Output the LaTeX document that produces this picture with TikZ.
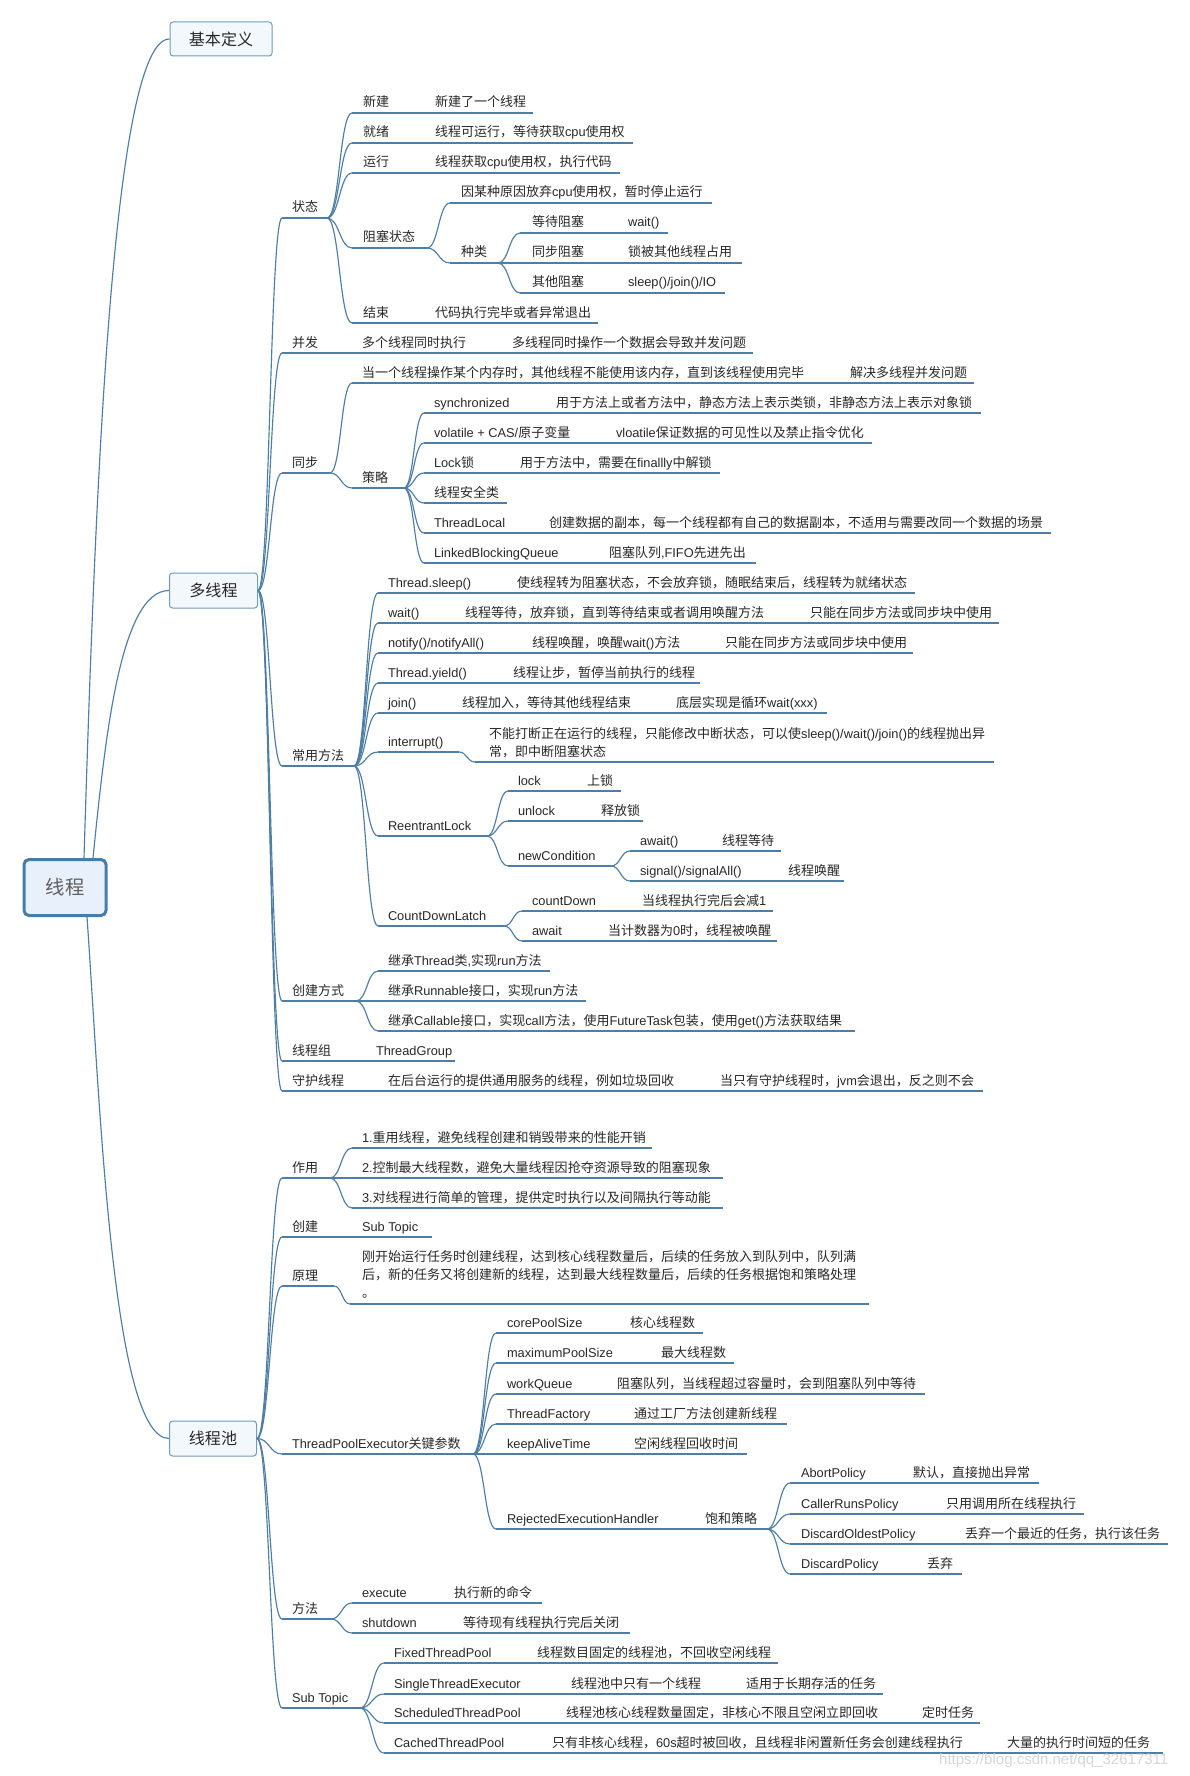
\documentclass[tikz,border=0pt]{standalone}
\usepackage{fontspec}
\setmainfont{Liberation Sans}
\newfontfamily\cjkfont[Scale=1.016]{Noto Sans CJK SC}
\usetikzlibrary{calc}
\XeTeXinterchartokenstate=1
\newXeTeXintercharclass\cjkcls
\newcount\cjkcnt
\newcommand\setcjkrange[2]{\cjkcnt=#1\relax
  \loop\XeTeXcharclass\cjkcnt=\cjkcls\relax
  \ifnum\cjkcnt<#2\relax\advance\cjkcnt by 1\relax\repeat}
\setcjkrange{"3000}{"303F}
\setcjkrange{"4E00}{"9FFF}
\setcjkrange{"FF00}{"FFEF}
\XeTeXinterchartoks 0 \cjkcls = {\begingroup\cjkfont}
\XeTeXinterchartoks 4095 \cjkcls = {\begingroup\cjkfont}
\XeTeXinterchartoks \cjkcls 0 = {\endgroup}
\XeTeXinterchartoks \cjkcls 4095 = {\endgroup}

\definecolor{lnc}{RGB}{78,125,165}
\definecolor{boxc}{RGB}{110,155,195}
\definecolor{boxf}{RGB}{243,248,252}
\definecolor{rootc}{RGB}{70,125,170}
\definecolor{rootf}{RGB}{232,241,251}
\definecolor{txtc}{RGB}{40,40,40}
\definecolor{roottxt}{RGB}{95,95,95}
\definecolor{wmc}{RGB}{214,214,214}

\newcommand\ulrow[4]{\coordinate (#1-l) at (#3,#2); \coordinate (#1-r) at (#4,#2); \draw[ul] (#1-l) -- (#1-r);}
\newcommand\tlab[4]{\node[tx] (#1) at (#2,#3-6) {#4};}
\newcommand\mmlink[2]{\draw[cn] let \p1=(#1), \p2=(#2) in (\p1) .. controls ({0.5*\x1+0.5*\x2},\y1) and ({0.5*\x1+0.5*\x2},\y2) .. (\p2);}
\newcommand\twolines[2]{\vtop{\baselineskip=18pt\hbox{#1}\hbox{#2}}}
\newcommand\threelines[3]{\vtop{\baselineskip=18pt\hbox{#1}\hbox{#2}\hbox{#3}}}

\begin{document}
\begin{tikzpicture}[x=1pt,y=-1pt,
  tx/.style={anchor=base west,inner sep=0pt,outer sep=0pt,text=txtc,font=\fontsize{12.8}{15}\selectfont},
  ul/.style={draw=lnc,line width=1.15pt},
  cn/.style={draw=lnc,line width=1.15pt},
  lvone/.style={draw=boxc,fill=boxf,rounded corners=3pt,line width=1pt,inner sep=0pt,text=txtc,font=\fontsize{15.8}{18}\selectfont},
  rootbox/.style={draw=rootc,fill=rootf,rounded corners=5pt,line width=3pt,inner sep=0pt,text=roottxt,font=\fontsize{19}{22}\selectfont,minimum width=82pt,minimum height=56pt}]
\fill[white] (0,0) rectangle (1189,1776);
\useasboundingbox (0,0) rectangle (1189,1776);

% ---------- root and main topics ----------
\node[rootbox] (root) at (65,887.5) {线程};
\node[lvone,minimum width=102pt,minimum height=34pt] (jb) at (221,39) {基本定义};
\node[lvone,minimum width=88pt,minimum height=35pt] (mt) at (213.5,590.5) {多线程};
\node[lvone,minimum width=87pt,minimum height=35pt] (tp) at (213,1438.5) {线程池};
\coordinate (rt1) at (84,858);
\coordinate (rt2) at (93,858);
\coordinate (rb) at (87,917);
\draw[cn] (rt1) .. controls (95,500) and (112,39) .. (jb.west);
\draw[cn] (rt2) .. controls (105,740) and (120,590.5) .. (mt.west);
\draw[cn] (rb) .. controls (100,1100) and (112,1438.5) .. (tp.west);

% ---------- 多线程 : 状态 ----------
\ulrow{zt}{218}{282}{327} \tlab{zt-a}{292}{218}{状态}
\mmlink{mt.east}{zt-l}
\ulrow{xj}{113}{352}{533} \tlab{xj-a}{363}{113}{新建} \tlab{xj-b}{435}{113}{新建了一个线程}
\ulrow{jx}{143}{352}{633} \tlab{jx-a}{363}{143}{就绪} \tlab{jx-b}{435}{143}{线程可运行，等待获取cpu使用权}
\ulrow{yx}{173}{352}{620} \tlab{yx-a}{363}{173}{运行} \tlab{yx-b}{435}{173}{线程获取cpu使用权，执行代码}
\ulrow{zs}{248}{352}{427} \tlab{zs-a}{363}{248}{阻塞状态}
\ulrow{yy}{203}{450}{712} \tlab{yy-a}{461}{203}{因某种原因放弃cpu使用权，暂时停止运行}
\ulrow{zl}{263}{450}{498} \tlab{zl-a}{461}{263}{种类}
\ulrow{dd}{233}{520}{668} \tlab{dd-a}{532}{233}{等待阻塞} \tlab{dd-b}{628}{233}{wait()}
\ulrow{tb}{263}{520}{742} \tlab{tb-a}{532}{263}{同步阻塞} \tlab{tb-b}{628}{263}{锁被其他线程占用}
\ulrow{qt}{293}{520}{725} \tlab{qt-a}{532}{293}{其他阻塞} \tlab{qt-b}{628}{293}{sleep()/join()/IO}
\ulrow{js}{323}{352}{598} \tlab{js-a}{363}{323}{结束} \tlab{js-b}{435}{323}{代码执行完毕或者异常退出}
\mmlink{zt-r}{xj-l} \mmlink{zt-r}{jx-l} \mmlink{zt-r}{yx-l} \mmlink{zt-r}{zs-l} \mmlink{zt-r}{js-l}
\mmlink{zs-r}{yy-l} \mmlink{zs-r}{zl-l}
\mmlink{zl-r}{dd-l} \mmlink{zl-r}{tb-l} \mmlink{zl-r}{qt-l}

% ---------- 并发 ----------
\ulrow{bf}{353}{282}{753} \tlab{bf-a}{292}{353}{并发} \tlab{bf-b}{362}{353}{多个线程同时执行} \tlab{bf-c}{512}{353}{多线程同时操作一个数据会导致并发问题}
\mmlink{mt.east}{bf-l}

% ---------- 同步 ----------
\ulrow{tbu}{473}{282}{330} \tlab{tbu-a}{292}{473}{同步}
\mmlink{mt.east}{tbu-l}
\ulrow{dy}{383}{352}{974} \tlab{dy-a}{362}{383}{当一个线程操作某个内存时，其他线程不能使用该内存，直到该线程使用完毕} \tlab{dy-b}{850}{383}{解决多线程并发问题}
\ulrow{cl}{488}{352}{404} \tlab{cl-a}{362}{488}{策略}
\mmlink{tbu-r}{dy-l} \mmlink{tbu-r}{cl-l}
\ulrow{sy}{413}{424}{981} \tlab{sy-a}{434}{413}{synchronized} \tlab{sy-b}{556}{413}{用于方法上或者方法中，静态方法上表示类锁，非静态方法上表示对象锁}
\ulrow{vo}{443}{424}{872} \tlab{vo-a}{434}{443}{volatile + CAS/原子变量} \tlab{vo-b}{616}{443}{vloatile保证数据的可见性以及禁止指令优化}
\ulrow{lk}{473}{424}{720} \tlab{lk-a}{434}{473}{Lock锁} \tlab{lk-b}{520}{473}{用于方法中，需要在finallly中解锁}
\ulrow{aq}{503}{424}{507} \tlab{aq-a}{434}{503}{线程安全类}
\ulrow{tl}{533}{424}{1051} \tlab{tl-a}{434}{533}{ThreadLocal} \tlab{tl-b}{549}{533}{创建数据的副本，每一个线程都有自己的数据副本，不适用与需要改同一个数据的场景}
\ulrow{lb}{563}{424}{756} \tlab{lb-a}{434}{563}{LinkedBlockingQueue} \tlab{lb-b}{609}{563}{阻塞队列,FIFO先进先出}
\mmlink{cl-r}{sy-l} \mmlink{cl-r}{vo-l} \mmlink{cl-r}{lk-l} \mmlink{cl-r}{aq-l} \mmlink{cl-r}{tl-l} \mmlink{cl-r}{lb-l}

% ---------- 常用方法 ----------
\ulrow{cy}{766}{282}{354} \tlab{cy-a}{292}{766}{常用方法}
\mmlink{mt.east}{cy-l}
\ulrow{sl}{593}{378}{915} \tlab{sl-a}{388}{593}{Thread.sleep()} \tlab{sl-b}{517}{593}{使线程转为阻塞状态，不会放弃锁，随眠结束后，线程转为就绪状态}
\ulrow{wt}{623}{378}{999} \tlab{wt-a}{388}{623}{wait()} \tlab{wt-b}{465}{623}{线程等待，放弃锁，直到等待结束或者调用唤醒方法} \tlab{wt-c}{810}{623}{只能在同步方法或同步块中使用}
\ulrow{nt}{653}{378}{913} \tlab{nt-a}{388}{653}{notify()/notifyAll()} \tlab{nt-b}{532}{653}{线程唤醒，唤醒wait()方法} \tlab{nt-c}{725}{653}{只能在同步方法或同步块中使用}
\ulrow{yd}{683}{378}{700} \tlab{yd-a}{388}{683}{Thread.yield()} \tlab{yd-b}{513}{683}{线程让步，暂停当前执行的线程}
\ulrow{jn}{713}{378}{827} \tlab{jn-a}{388}{713}{join()} \tlab{jn-b}{462}{713}{线程加入，等待其他线程结束} \tlab{jn-c}{676}{713}{底层实现是循环wait(xxx)}
\ulrow{ir}{752}{378}{459} \tlab{ir-a}{388}{752}{interrupt()}
\ulrow{ird}{762}{475}{994}
\node[tx] (ird-a) at (489,738) {\twolines{不能打断正在运行的线程，只能修改中断状态，可以使sleep()/wait()/join()的线程抛出异}{常，即中断阻塞状态}};
\mmlink{ir-r}{ird-l}
\ulrow{rl}{836}{378}{487} \tlab{rl-a}{388}{836}{ReentrantLock}
\ulrow{lo}{791}{508}{621} \tlab{lo-a}{518}{791}{lock} \tlab{lo-b}{587}{791}{上锁}
\ulrow{unl}{821}{508}{643} \tlab{unl-a}{518}{821}{unlock} \tlab{unl-b}{601}{821}{释放锁}
\ulrow{nc}{866}{508}{611} \tlab{nc-a}{518}{866}{newCondition}
\ulrow{aw}{851}{630}{781} \tlab{aw-a}{640}{851}{await()} \tlab{aw-b}{722}{851}{线程等待}
\ulrow{sg}{881}{630}{844} \tlab{sg-a}{640}{881}{signal()/signalAll()} \tlab{sg-b}{788}{881}{线程唤醒}
\ulrow{cd}{926}{378}{504} \tlab{cd-a}{388}{926}{CountDownLatch}
\ulrow{cdn}{911}{522}{773} \tlab{cdn-a}{532}{911}{countDown} \tlab{cdn-b}{642}{911}{当线程执行完后会减1}
\ulrow{caw}{941}{522}{777} \tlab{caw-a}{532}{941}{await} \tlab{caw-b}{608}{941}{当计数器为0时，线程被唤醒}
\mmlink{cy-r}{sl-l} \mmlink{cy-r}{wt-l} \mmlink{cy-r}{nt-l} \mmlink{cy-r}{yd-l} \mmlink{cy-r}{jn-l} \mmlink{cy-r}{ir-l} \mmlink{cy-r}{rl-l} \mmlink{cy-r}{cd-l}
\mmlink{rl-r}{lo-l} \mmlink{rl-r}{unl-l} \mmlink{rl-r}{nc-l}
\mmlink{nc-r}{aw-l} \mmlink{nc-r}{sg-l}
\mmlink{cd-r}{cdn-l} \mmlink{cd-r}{caw-l}

% ---------- 创建方式 / 线程组 / 守护线程 ----------
\ulrow{cj}{1001}{282}{356} \tlab{cj-a}{292}{1001}{创建方式}
\mmlink{mt.east}{cj-l}
\ulrow{ct}{971}{378}{550} \tlab{ct-a}{388}{971}{继承Thread类,实现run方法}
\ulrow{cr}{1001}{378}{586} \tlab{cr-a}{388}{1001}{继承Runnable接口，实现run方法}
\ulrow{cc}{1031}{378}{855} \tlab{cc-a}{388}{1031}{继承Callable接口，实现call方法，使用FutureTask包装，使用get()方法获取结果}
\mmlink{cj-r}{ct-l} \mmlink{cj-r}{cr-l} \mmlink{cj-r}{cc-l}
\ulrow{xz}{1061}{282}{455} \tlab{xz-a}{292}{1061}{线程组} \tlab{xz-b}{376}{1061}{ThreadGroup}
\mmlink{mt.east}{xz-l}
\ulrow{sh}{1091}{282}{983} \tlab{sh-a}{292}{1091}{守护线程} \tlab{sh-b}{388}{1091}{在后台运行的提供通用服务的线程，例如垃圾回收} \tlab{sh-c}{720}{1091}{当只有守护线程时，jvm会退出，反之则不会}
\mmlink{mt.east}{sh-l}

% ---------- 线程池 ----------
\ulrow{zy}{1178}{282}{330} \tlab{zy-a}{292}{1178}{作用}
\mmlink{tp.east}{zy-l}
\ulrow{z1}{1148}{352}{652} \tlab{z1-a}{362}{1148}{1.重用线程，避免线程创建和销毁带来的性能开销}
\ulrow{z2}{1178}{352}{723} \tlab{z2-a}{362}{1178}{2.控制最大线程数，避免大量线程因抢夺资源导致的阻塞现象}
\ulrow{z3}{1208}{352}{723} \tlab{z3-a}{362}{1208}{3.对线程进行简单的管理，提供定时执行以及间隔执行等动能}
\mmlink{zy-r}{z1-l} \mmlink{zy-r}{z2-l} \mmlink{zy-r}{z3-l}
\ulrow{cjp}{1237}{282}{432} \tlab{cjp-a}{292}{1237}{创建} \tlab{cjp-b}{362}{1237}{Sub Topic}
\mmlink{tp.east}{cjp-l}
\ulrow{yl}{1286}{282}{334} \tlab{yl-a}{292}{1286}{原理}
\ulrow{yld}{1304}{350}{869}
\node[tx] (yld-a) at (362,1261) {\threelines{刚开始运行任务时创建线程，达到核心线程数量后，后续的任务放入到队列中，队列满}{后，新的任务又将创建新的线程，达到最大线程数量后，后续的任务根据饱和策略处理}{。}};
\mmlink{tp.east}{yl-l} \mmlink{yl-r}{yld-l}
\ulrow{tpe}{1454}{282}{473} \tlab{tpe-a}{292}{1454}{ThreadPoolExecutor关键参数}
\mmlink{tp.east}{tpe-l}
\ulrow{cp}{1333}{496}{703} \tlab{cp-a}{507}{1333}{corePoolSize} \tlab{cp-b}{630}{1333}{核心线程数}
\ulrow{mp}{1363}{496}{734} \tlab{mp-a}{507}{1363}{maximumPoolSize} \tlab{mp-b}{661}{1363}{最大线程数}
\ulrow{wq}{1394}{496}{925} \tlab{wq-a}{507}{1394}{workQueue} \tlab{wq-b}{617}{1394}{阻塞队列，当线程超过容量时，会到阻塞队列中等待}
\ulrow{tf}{1424}{496}{787} \tlab{tf-a}{507}{1424}{ThreadFactory} \tlab{tf-b}{634}{1424}{通过工厂方法创建新线程}
\ulrow{ka}{1454}{496}{747} \tlab{ka-a}{507}{1454}{keepAliveTime} \tlab{ka-b}{634}{1454}{空闲线程回收时间}
\ulrow{re}{1529}{496}{767} \tlab{re-a}{507}{1529}{RejectedExecutionHandler} \tlab{re-b}{705}{1529}{饱和策略}
\mmlink{tpe-r}{cp-l} \mmlink{tpe-r}{mp-l} \mmlink{tpe-r}{wq-l} \mmlink{tpe-r}{tf-l} \mmlink{tpe-r}{ka-l} \mmlink{tpe-r}{re-l}
\ulrow{ab}{1483}{790}{1039} \tlab{ab-a}{801}{1483}{AbortPolicy} \tlab{ab-b}{913}{1483}{默认，直接抛出异常}
\ulrow{crp}{1514}{790}{1084} \tlab{crp-a}{801}{1514}{CallerRunsPolicy} \tlab{crp-b}{946}{1514}{只用调用所在线程执行}
\ulrow{dop}{1544}{790}{1168} \tlab{dop-a}{801}{1544}{DiscardOldestPolicy} \tlab{dop-b}{965}{1544}{丢弃一个最近的任务，执行该任务}
\ulrow{dpp}{1574}{790}{962} \tlab{dpp-a}{801}{1574}{DiscardPolicy} \tlab{dpp-b}{927}{1574}{丢弃}
\mmlink{re-r}{ab-l} \mmlink{re-r}{crp-l} \mmlink{re-r}{dop-l} \mmlink{re-r}{dpp-l}
\ulrow{ff}{1619}{282}{331} \tlab{ff-a}{292}{1619}{方法}
\mmlink{tp.east}{ff-l}
\ulrow{ex}{1603}{352}{542} \tlab{ex-a}{362}{1603}{execute} \tlab{ex-b}{454}{1603}{执行新的命令}
\ulrow{sd}{1633}{352}{630} \tlab{sd-a}{362}{1633}{shutdown} \tlab{sd-b}{463}{1633}{等待现有线程执行完后关闭}
\mmlink{ff-r}{ex-l} \mmlink{ff-r}{sd-l}
\ulrow{st}{1708}{282}{360} \tlab{st-a}{292}{1708}{Sub Topic}
\mmlink{tp.east}{st-l}
\ulrow{fx}{1663}{384}{778} \tlab{fx-a}{394}{1663}{FixedThreadPool} \tlab{fx-b}{537}{1663}{线程数目固定的线程池，不回收空闲线程}
\ulrow{si}{1694}{384}{883} \tlab{si-a}{394}{1694}{SingleThreadExecutor} \tlab{si-b}{571}{1694}{线程池中只有一个线程} \tlab{si-c}{746}{1694}{适用于长期存活的任务}
\ulrow{sc}{1723}{384}{980} \tlab{sc-a}{394}{1723}{ScheduledThreadPool} \tlab{sc-b}{566}{1723}{线程池核心线程数量固定，非核心不限且空闲立即回收} \tlab{sc-c}{922}{1723}{定时任务}
\ulrow{ca}{1753}{384}{1163} \tlab{ca-a}{394}{1753}{CachedThreadPool} \tlab{ca-b}{552}{1753}{只有非核心线程，60s超时被回收，且线程非闲置新任务会创建线程执行} \tlab{ca-c}{1007}{1753}{大量的执行时间短的任务}
\mmlink{st-r}{fx-l} \mmlink{st-r}{si-l} \mmlink{st-r}{sc-l} \mmlink{st-r}{ca-l}

% ---------- watermark ----------
\node[anchor=base west,inner sep=0pt,text=wmc,font=\fontsize{15}{18}\selectfont] (wmk) at (939,1764) {https://blog.csdn.net/qq\_32617311};
\end{tikzpicture}
\end{document}
